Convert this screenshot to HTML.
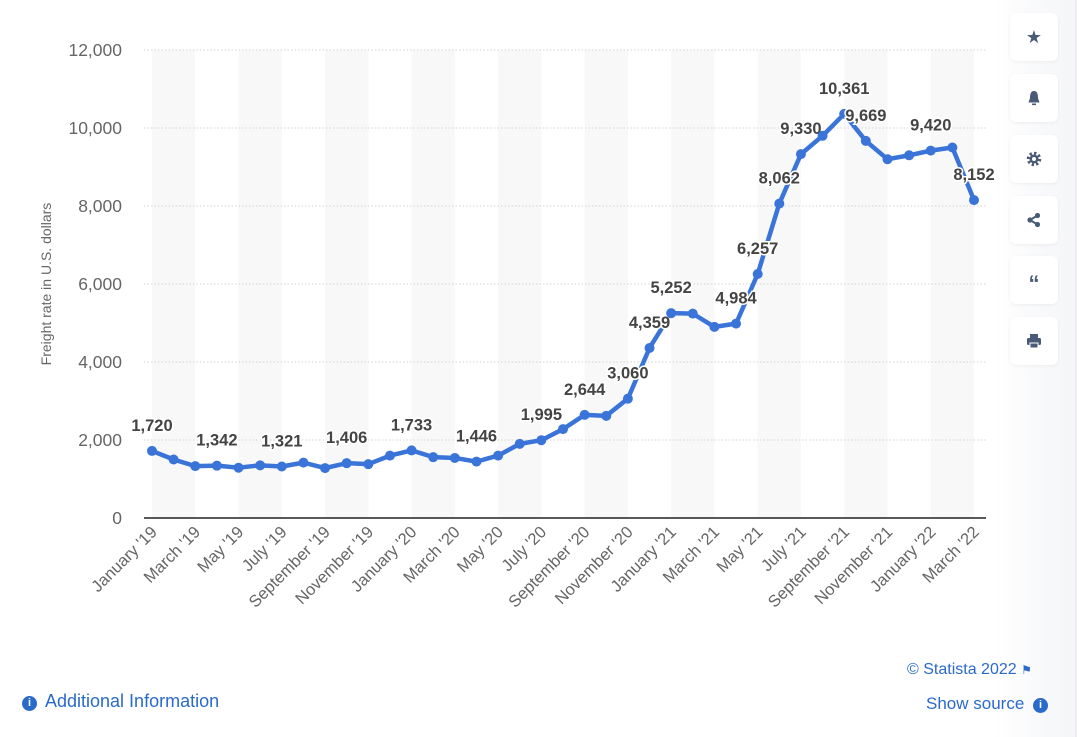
<!DOCTYPE html>
<html><head><meta charset="utf-8"><style>
body{margin:0;width:1080px;height:737px;background:#fff;font-family:"Liberation Sans",sans-serif;position:relative;overflow:hidden}
#side{position:absolute;left:992px;top:0;width:85px;height:737px;background:linear-gradient(90deg,#fff,#f4f5f8)}
#side:after{content:"";position:absolute;right:0;top:0;width:2px;height:100%;background:#eceef2}
.btn{position:absolute;left:18px;width:48px;height:48px;background:#fff;border-radius:6px;box-shadow:0 1px 3px rgba(0,0,0,.06);display:flex;align-items:center;justify-content:center;color:#4a5b78;font-size:18px}
</style></head><body>
<div id="side">
<div class="btn" style="top:13px">★</div>
<div class="btn" style="top:74px"><svg width="14" height="16"><path d="M7 1C3.5 1 3 5 3 8L1.5 12.5H12.5L11 8C11 5 10.5 1 7 1Z" fill="#4a5b78"/><rect x="5" y="13.5" width="4" height="1.6" fill="#4a5b78"/></svg></div>
<div class="btn" style="top:135px"><svg width="16" height="16"><circle cx="8" cy="8" r="5.5" fill="none" stroke="#4a5b78" stroke-width="3.5" stroke-dasharray="2.2 2.1"/><circle cx="8" cy="8" r="4.5" fill="#4a5b78"/><circle cx="8" cy="8" r="2" fill="#fff"/></svg></div>
<div class="btn" style="top:196px"><svg width="16" height="16"><path d="M11.5 3.5L4 8L11.5 12.5" stroke="#4a5b78" stroke-width="2" fill="none"/><circle cx="11.5" cy="3.5" r="2.6" fill="#4a5b78"/><circle cx="4" cy="8" r="2.6" fill="#4a5b78"/><circle cx="11.5" cy="12.5" r="2.6" fill="#4a5b78"/></svg></div>
<div class="btn" style="top:256px;font-weight:bold;font-size:22px;padding-top:8px;box-sizing:border-box">“</div>
<div class="btn" style="top:317px"><svg width="16" height="16"><rect x="4" y="1" width="8" height="4" fill="#4a5b78"/><rect x="1" y="5" width="14" height="7" rx="1.5" fill="#4a5b78"/><rect x="4" y="10" width="8" height="5" fill="#4a5b78" stroke="#fff" stroke-width="1"/></svg></div>
</div>
<svg id="c" width="1000" height="737" style="position:absolute;left:0;top:0" font-family="Liberation Sans, sans-serif"></svg>
<div style="position:absolute;left:22px;top:691px;font-size:18px;color:#2a6acb"><span style="display:inline-block;width:15px;height:15px;border-radius:50%;background:#2a6acb;color:#fff;font-size:11px;text-align:center;line-height:15px;font-weight:bold;vertical-align:1px;margin-right:8px">i</span>Additional Information</div>
<div style="position:absolute;left:907px;top:661px;font-size:16px;color:#2a6acb">© Statista 2022 <span style="font-size:12px">⚑</span></div>
<div style="position:absolute;left:926px;top:694px;font-size:17px;color:#2a6acb">Show source <span style="display:inline-block;width:15px;height:15px;border-radius:50%;background:#2a6acb;color:#fff;font-size:11px;text-align:center;line-height:15px;font-weight:bold;vertical-align:1px;margin-left:4px">i</span></div>
<script>
var d=[1720,1500,1330,1342,1290,1350,1321,1420,1280,1406,1380,1600,1733,1560,1540,1446,1600,1900,1995,2280,2644,2620,3060,4359,5252,5240,4900,4984,6257,8062,9330,9800,10361,9669,9200,9300,9420,9500,8152];
var lab={0:1,3:1,6:1,9:1,12:1,15:1,18:1,20:1,22:1,23:1,24:1,27:1,28:1,29:1,30:1,32:1,33:1,36:1,38:1};
var m=['January','February','March','April','May','June','July','August','September','October','November','December'];
function X(i){return 152+i*(822/38)}function Y(v){return 518-v*0.039}
var s='';
for(var i=0;i<38;i+=4)s+='<rect x="'+X(i)+'" y="50" width="'+(X(i+2)-X(i))+'" height="468" fill="#f8f8f9"/>';
for(var k=0;k<=6;k++){var y=Y(k*2000);if(k>0)s+='<line x1="144" x2="986" y1="'+y+'" y2="'+y+'" stroke="#d4d4d4" stroke-dasharray="1.5 2"/>';
s+='<text x="122" y="'+(y+6)+'" text-anchor="end" font-size="17.5" fill="#666">'+(k*2000).toLocaleString('en-US')+'</text>';}
s+='<line x1="144" x2="986" y1="518" y2="518" stroke="#222" stroke-width="1.5"/>';
s+='<text transform="translate(51,284) rotate(-90)" text-anchor="middle" font-size="14" fill="#666">Freight rate in U.S. dollars</text>';
var p=d.map(function(v,i){return X(i)+','+Y(v)}).join(' ');
s+='<polyline points="'+p+'" fill="none" stroke="#3a74d8" stroke-width="4.5" stroke-linejoin="round"/>';
d.forEach(function(v,i){s+='<circle cx="'+X(i)+'" cy="'+Y(v)+'" r="5" fill="#3a74d8"/>';
if(lab[i])s+='<text x="'+X(i)+'" y="'+(Y(v)-20)+'" text-anchor="middle" font-size="16.5" font-weight="bold" fill="#444" stroke="#fff" stroke-width="3" paint-order="stroke">'+v.toLocaleString('en-US')+'</text>';});
for(var i=0;i<39;i+=2){var t=m[i%12]+" '"+(19+Math.floor(i/12));
s+='<text transform="translate('+(X(i)+6)+',533) rotate(-45)" text-anchor="end" font-size="16.5" fill="#666">'+t+'</text>';}
document.getElementById('c').innerHTML=s;
</script>
</body></html>
